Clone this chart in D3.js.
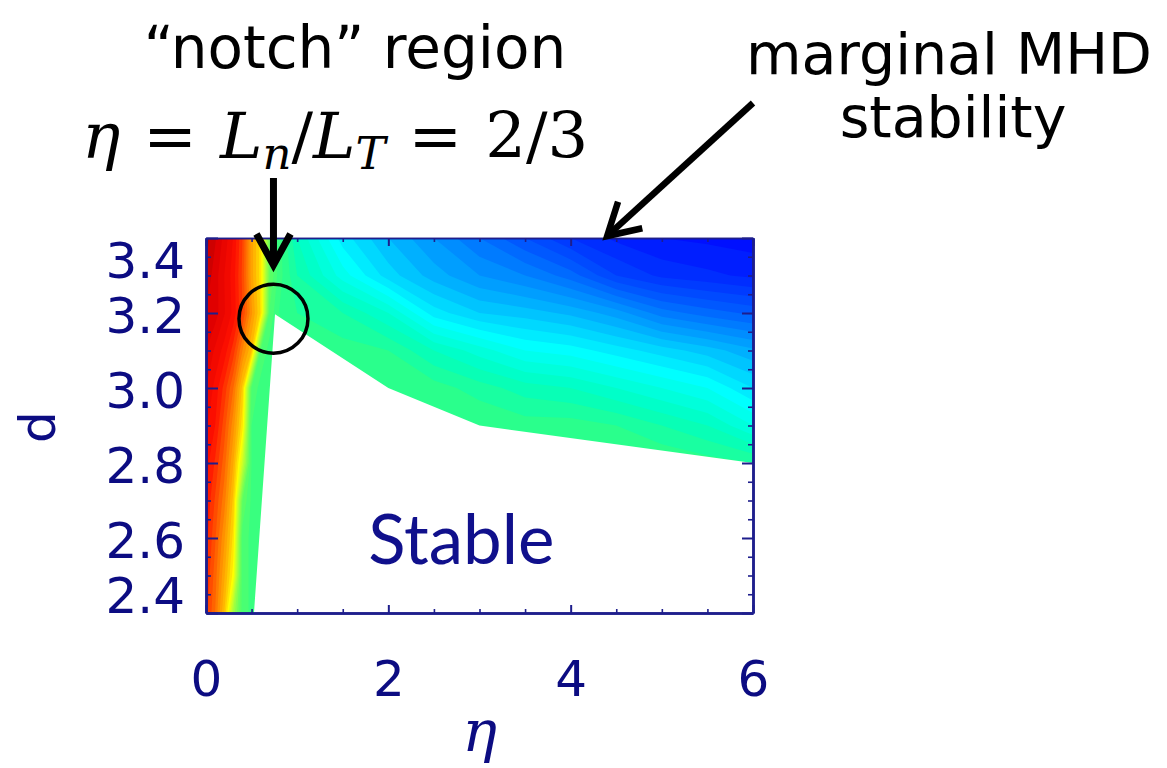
<!DOCTYPE html>
<html>
<head>
<meta charset="utf-8">
<script src="https://cdnjs.cloudflare.com/ajax/libs/d3/7.8.5/d3.min.js"></script>
<style>
  body { margin: 0; background: #fff; }
  svg { display: block; }
</style>
</head>
<body>
<svg id="chart" width="1167" height="768"></svg>
<script>
// grid of the contour field: eta columns, d rows
const etaGrid = [0, 0.1, 0.2, 0.3, 0.4, 0.5, 0.6, 0.7, 0.8, 1, 1.5, 2, 2.5, 3, 3.5, 4, 4.5, 5, 5.5, 6];
const dGrid = [2.4, 2.5, 2.6, 2.7, 2.8, 2.9, 3.0, 3.1, 3.2, 3.3, 3.4];

// colour value (0 = blue ... 1 = dark red), one row per d
const fieldRows = [
  [.83, .78, .70, .575, .49, .475, .47, .46, .46, .46, .46, .46, .46, .46, .46, .46, .46, .46, .46, .46],
  [.84, .79, .724, .65, .49, .475, .47, .46, .46, .46, .46, .46, .46, .46, .46, .46, .46, .46, .46, .46],
  [.85, .803, .744, .672, .49, .475, .47, .46, .46, .46, .46, .46, .46, .46, .46, .46, .46, .46, .46, .46],
  [.86, .817, .769, .693, .52, .475, .47, .46, .46, .46, .46, .46, .46, .46, .46, .46, .46, .46, .46, .46],
  [.87, .837, .79, .72, .61, .48, .47, .46, .46, .46, .46, .46, .46, .46, .46, .46, .46, .46, .45, .44],
  [.885, .86, .81, .748, .667, .48, .47, .46, .46, .46, .46, .46, .46, .46, .45, .45, .44, .42, .40, .36],
  [.90, .873, .833, .78, .693, .50, .47, .46, .46, .46, .46, .46, .45, .43, .41, .40, .38, .36, .34, .30],
  [.92, .896, .872, .83, .76, .70, .50, .47, .46, .46, .45, .44, .40, .37, .34, .33, .31, .29, .27, .245],
  [.94, .93, .902, .874, .82, .744, .677, .496, .46, .44, .42, .38, .31, .28, .27, .255, .23, .19, .17, .155],
  [.955, .93, .90, .87, .815, .73, .67, .52, .47, .42, .35, .29, .25, .22, .20, .17, .12, .095, .085, .075],
  [.97, .943, .913, .878, .82, .73, .67, .52, .47, .40, .31, .26, .22, .18, .14, .10, .075, .06, .055, .05]
];

// edge of the stable (white) region, eta vs d
const stableEdge = [
  {eta: 0.526, d: 2.4},
  {eta: 0.757, d: 3.197},
  {eta: 2.0, d: 3.0},
  {eta: 3.0, d: 2.9},
  {eta: 6.0, d: 2.8},
  {eta: 6.0, d: 2.4}
];

const etaTicks = [0, 2, 4, 6];
const etaMinor = [0.5, 1, 1.5, 2.5, 3, 3.5, 4.5, 5, 5.5];
const dTicks = [2.4, 2.6, 2.8, 3.0, 3.2, 3.4];
const dMinor = [2.45, 2.5, 2.55, 2.65, 2.7, 2.75, 2.85, 2.9, 2.95, 3.05, 3.1, 3.15, 3.25, 3.3, 3.35];

const plot = {left: 206, right: 753, top: 238, bottom: 613};
const navy = "#1e1e8c";
const labelNavy = "#0c0c82";

const x = d3.scaleLinear().domain([0, 6]).range([plot.left, plot.right]);
const y = d3.scaleLinear().domain([2.4, 3.4]).range([plot.bottom, plot.top]);

// rainbow table, IDL-like
const colour = d3.scaleLinear()
  .domain([0, 0.05, 0.15, 0.25, 0.33, 0.40, 0.45, 0.52, 0.60, 0.65, 0.70, 0.75, 0.80, 0.86, 0.93, 1.0])
  .range(["#0000f0", "#0010ff", "#0058ff", "#00b0ff", "#00ffff", "#00ffc0", "#2aff8c", "#60ff60",
          "#c0ff30", "#ffff00", "#ffc000", "#ff9000", "#ff5800", "#ff1000", "#e00000", "#a00000"])
  .clamp(true);

const svg = d3.select("#chart");

svg.append("defs").append("clipPath").attr("id", "plotClip")
  .append("rect")
  .attr("x", plot.left).attr("y", plot.top)
  .attr("width", plot.right - plot.left).attr("height", plot.bottom - plot.top);

// contours on the (irregular) grid, mapped back through index scales
const nx = etaGrid.length, ny = dGrid.length;
const step = 0.02;
const levels = d3.range(0, 50).map(i => i * step);
const bands = d3.contours().size([nx, ny]).thresholds(levels)(fieldRows.flat());

const ix = d3.scaleLinear().domain(d3.range(nx)).range(etaGrid).clamp(true);
const iy = d3.scaleLinear().domain(d3.range(ny)).range(dGrid).clamp(true);
const gridPath = d3.geoPath(d3.geoTransform({
  point: function(px, py) { this.stream.point(x(ix(px - 0.5)), y(iy(py - 0.5))); }
}));

const field = svg.append("g").attr("clip-path", "url(#plotClip)");
field.selectAll("path.band")
  .data(bands)
  .join("path")
  .attr("class", "band")
  .attr("d", gridPath)
  .attr("fill", d => colour(d.value + step / 2));

const edgeLine = d3.line().x(p => x(p.eta)).y(p => y(p.d));
field.append("path")
  .datum(stableEdge)
  .attr("d", d => edgeLine(d) + "Z")
  .attr("fill", "#fff");

// axes, ticks pointing inwards
function styleAxis(g, width) {
  g.attr("font-size", null).attr("font-family", null);
  g.selectAll("path.domain").attr("stroke", navy).attr("stroke-width", 2.5);
  g.selectAll(".tick line").attr("stroke", navy).attr("stroke-width", width);
  g.selectAll(".tick text")
    .attr("fill", labelNavy)
    .style("font-family", "'DejaVu Sans', sans-serif")
    .style("font-size", "50px");
}

const gLeft = svg.append("g").attr("transform", `translate(${plot.left},0)`)
  .call(d3.axisLeft(y).tickValues(dTicks).tickSize(-12).tickSizeOuter(0).tickPadding(21).tickFormat(d3.format(".1f")));
styleAxis(gLeft, 2);
// the end labels sit inside the frame
gLeft.selectAll(".tick text")
  .attr("y", v => Math.max(plot.top + 20, Math.min(plot.bottom - 20, y(v))) - y(v) + 3);

svg.append("g").attr("transform", `translate(${plot.left},0)`)
  .call(d3.axisLeft(y).tickValues(dMinor).tickSize(-5).tickSizeOuter(0).tickFormat(""))
  .call(g => styleAxis(g, 1.6));

svg.append("g").attr("transform", `translate(${plot.right},0)`)
  .call(d3.axisRight(y).tickValues(dTicks).tickSize(-11).tickSizeOuter(0).tickFormat(""))
  .call(g => styleAxis(g, 2));
svg.append("g").attr("transform", `translate(${plot.right},0)`)
  .call(d3.axisRight(y).tickValues(dMinor).tickSize(-5).tickSizeOuter(0).tickFormat(""))
  .call(g => styleAxis(g, 1.6));

svg.append("g").attr("transform", `translate(0,${plot.bottom})`)
  .call(d3.axisBottom(x).tickValues(etaTicks).tickSize(-8).tickSizeOuter(0).tickPadding(47).tickFormat(d3.format("d")))
  .call(g => styleAxis(g, 2));
svg.append("g").attr("transform", `translate(0,${plot.bottom})`)
  .call(d3.axisBottom(x).tickValues(etaMinor).tickSize(-4).tickSizeOuter(0).tickFormat(""))
  .call(g => styleAxis(g, 1.6));

svg.append("g").attr("transform", `translate(0,${plot.top})`)
  .call(d3.axisTop(x).tickValues(etaTicks).tickSize(-8).tickSizeOuter(0).tickFormat(""))
  .call(g => styleAxis(g, 2))
  .call(g => g.select("path.domain").attr("stroke-width", 1.5));
svg.append("g").attr("transform", `translate(0,${plot.top})`)
  .call(d3.axisTop(x).tickValues(etaMinor).tickSize(-4).tickSizeOuter(0).tickFormat(""))
  .call(g => styleAxis(g, 1.6))
  .call(g => g.select("path.domain").attr("stroke-width", 1.5));

// axis titles
svg.append("text")
  .attr("transform", "translate(55,427) rotate(-90)")
  .attr("text-anchor", "middle")
  .attr("fill", labelNavy)
  .style("font", "50px 'DejaVu Sans', sans-serif")
  .text("d");

svg.append("text")
  .attr("x", (plot.left + plot.right) / 2).attr("y", 751)
  .attr("text-anchor", "middle")
  .attr("fill", labelNavy)
  .style("font", "italic 58px 'DejaVu Serif', serif")
  .text("η");

svg.append("text")
  .attr("x", x(2.8)).attr("y", 564)
  .attr("text-anchor", "middle")
  .attr("fill", "#10108c")
  .style("font", "69px Lato, 'Open Sans', sans-serif")
  .text("Stable");

// annotations
const ann = svg.append("g").attr("fill", "#000");
ann.append("text")
  .attr("x", 355).attr("y", 68)
  .attr("text-anchor", "middle")
  .style("font", "58px 'DejaVu Sans', sans-serif")
  .text("\u201cnotch\u201d region");

const formula = ann.append("text")
  .attr("x", 82).attr("y", 158)
  .style("font", "64px 'DejaVu Serif', serif");
formula.append("tspan").style("font-style", "italic").text("η");
formula.append("tspan").attr("dx", 23).text("=");
formula.append("tspan").attr("dx", 23).style("font-style", "italic").text("L");
formula.append("tspan").attr("dy", 11).style("font-style", "italic").style("font-size", "45px").text("n");
formula.append("tspan").attr("dy", -11).text("/");
formula.append("tspan").style("font-style", "italic").text("L");
formula.append("tspan").attr("dy", 11).style("font-style", "italic").style("font-size", "45px").text("T");
formula.append("tspan").attr("dy", -11).attr("dx", 23).text("=");
formula.append("tspan").attr("dx", 23).text("2/3");

ann.append("text")
  .attr("x", 949).attr("y", 74)
  .attr("text-anchor", "middle")
  .style("font", "57px 'DejaVu Sans', sans-serif")
  .text("marginal MHD");
ann.append("text")
  .attr("x", 953).attr("y", 137)
  .attr("text-anchor", "middle")
  .style("font", "57px 'DejaVu Sans', sans-serif")
  .text("stability");

// notch arrow and circle
const notch = {eta: 0.74, d: 3.185};
const nx0 = x(notch.eta);
const arrows = svg.append("g")
  .attr("fill", "none").attr("stroke", "#000")
  .attr("stroke-width", 7).attr("stroke-linecap", "butt").attr("stroke-linejoin", "miter");
arrows.append("path").attr("d", `M${nx0},178 L${nx0},264`);
arrows.append("path").attr("d", `M${nx0 - 17},234 L${nx0},265 L${nx0 + 17},234`);

svg.append("circle")
  .attr("cx", x(notch.eta)).attr("cy", y(notch.d)).attr("r", 34.5)
  .attr("fill", "none").attr("stroke", "#000").attr("stroke-width", 3.5);

// marginal stability arrow
const tip = [x(4.4), plot.top - 2];
const tail = [753, 103];
const ang = Math.atan2(tail[1] - tip[1], tail[0] - tip[0]);
const head = 36, spread = Math.PI / 6;
arrows.append("path").attr("stroke-width", 6.5).attr("d", `M${tail[0]},${tail[1]} L${tip[0] + 4 * Math.cos(ang)},${tip[1] + 4 * Math.sin(ang)}`);
arrows.append("path").attr("stroke-width", 6.5).attr("d",
  `M${tip[0] + head * Math.cos(ang - spread)},${tip[1] + head * Math.sin(ang - spread)}` +
  ` L${tip[0]},${tip[1]}` +
  ` L${tip[0] + head * Math.cos(ang + spread)},${tip[1] + head * Math.sin(ang + spread)}`);
</script>
</body>
</html>
